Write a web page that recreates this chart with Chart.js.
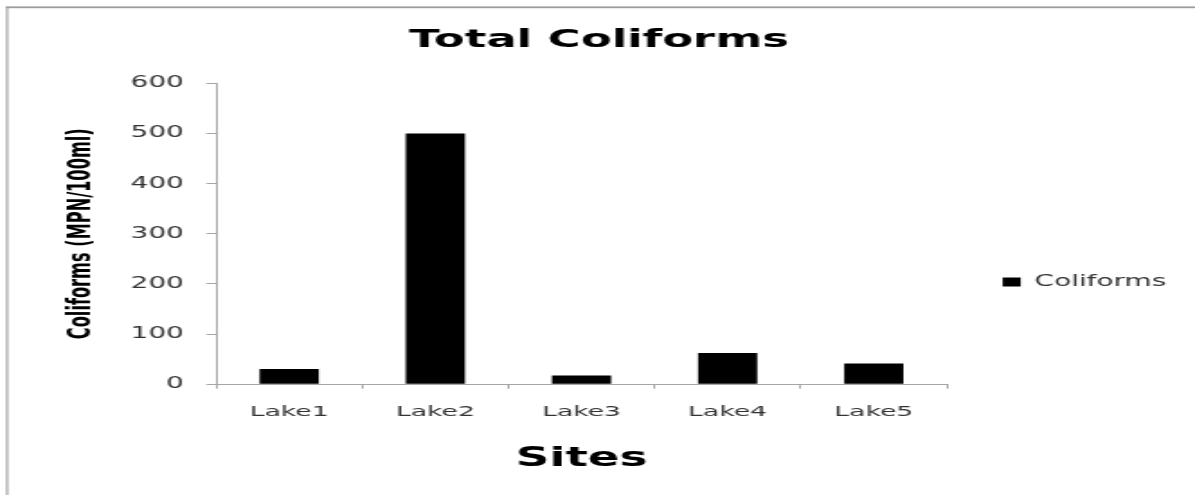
<!DOCTYPE html>
<html>
<head>
<meta charset="utf-8">
<title>Total Coliforms</title>
<script src="https://cdn.jsdelivr.net/npm/chart.js@4"></script>
<style>
  html, body { margin: 0; padding: 0; background: #fff; }
  #wrap { width: 1195px; height: 495px; overflow: hidden; }
</style>
</head>
<body>
<div id="wrap">
  <!-- drawn on a narrow canvas and widened by css, so the lettering comes out wide -->
  <canvas id="coli-chart" width="664" height="495" style="width:1195px;height:495px"></canvas>
</div>
<script>
const sites = ['Lake1', 'Lake2', 'Lake3', 'Lake4', 'Lake5'];
const coliforms = [30, 500, 17, 62, 41];
const yTicks = [0, 100, 200, 300, 400, 500, 600];

const axisGrey = '#a6a6a6';
const labelGrey = '#333333';

// grey chart border: only the left and top edges fall inside the page
const framePlugin = {
  id: 'frame',
  beforeDraw: (chart) => {
    const {ctx} = chart;
    ctx.save();
    ctx.fillStyle = '#ffffff';
    ctx.fillRect(0, 0, chart.width, chart.height);
    ctx.fillStyle = '#9c9c9c';
    ctx.fillRect(3.4, 6.4, 1.1, chart.height);
    ctx.fillRect(3.4, 6.4, chart.width, 1.8);
    ctx.restore();
  }
};

Chart.defaults.font.family = 'DejaVu Sans';

var config = {
  type: 'bar',
  data: {
    labels: sites,
    datasets: [{
      label: 'Coliforms',
      data: coliforms,
      backgroundColor: '#000000',
      borderWidth: 0,
      categoryPercentage: 1,
      barPercentage: 0.405
    }]
  },
  options: {
    responsive: false,
    animation: false,
    layout: {
      padding: {left: 7.7, right: 6, top: 0, bottom: 0}
    },
    plugins: {
      title: {
        display: true,
        text: 'Total Coliforms',
        color: '#000000',
        font: {size: 25, weight: 'bold', lineHeight: 1.2},
        padding: {top: 25, bottom: 28.3}
      },
      legend: {
        position: 'right',
        maxWidth: 138,
        // empty legend title only pushes the single entry down
        title: {
          display: true,
          text: '',
          font: {size: 10, lineHeight: 1.2},
          padding: {top: 57, bottom: 0}
        },
        labels: {
          boxWidth: 10,
          boxHeight: 9,
          padding: 31,
          color: labelGrey,
          font: {size: 15.5}
        }
      },
      tooltip: {enabled: false}
    },
    scales: {
      x: {
        offset: true,
        grid: {
          display: true,
          drawOnChartArea: false,
          drawTicks: true,
          tickLength: 4.5,
          color: axisGrey,
          offset: true
        },
        border: {display: true, color: axisGrey, width: 1},
        ticks: {
          color: labelGrey,
          padding: 15,
          font: {size: 14.8}
        },
        title: {
          display: true,
          text: 'Sites',
          color: '#000000',
          font: {size: 26, weight: 'bold', lineHeight: 1.2},
          padding: {top: 7, bottom: 20.4}
        }
      },
      y: {
        min: yTicks[0],
        max: yTicks[yTicks.length - 1],
        grid: {
          display: true,
          drawOnChartArea: false,
          drawTicks: true,
          tickLength: 5.5,
          color: axisGrey
        },
        border: {display: true, color: axisGrey, width: 1},
        ticks: {
          stepSize: yTicks[1] - yTicks[0],
          color: labelGrey,
          padding: 12.4,
          font: {size: 15.5}
        },
        title: {
          display: true,
          text: 'Coliforms (MPN/100ml)',
          color: '#000000',
          font: {family: "'DejaVu Sans Condensed', 'DejaVu Sans'", size: 18, weight: 'bold', lineHeight: 1.2},
          padding: {top: 26.5, bottom: 4.4}
        }
      }
    }
  },
  plugins: [framePlugin]
};

window.onload = function() {
  var ctx = document.getElementById('coli-chart').getContext('2d');
  window.coliChart = new Chart(ctx, config);
};
</script>
</body>
</html>
